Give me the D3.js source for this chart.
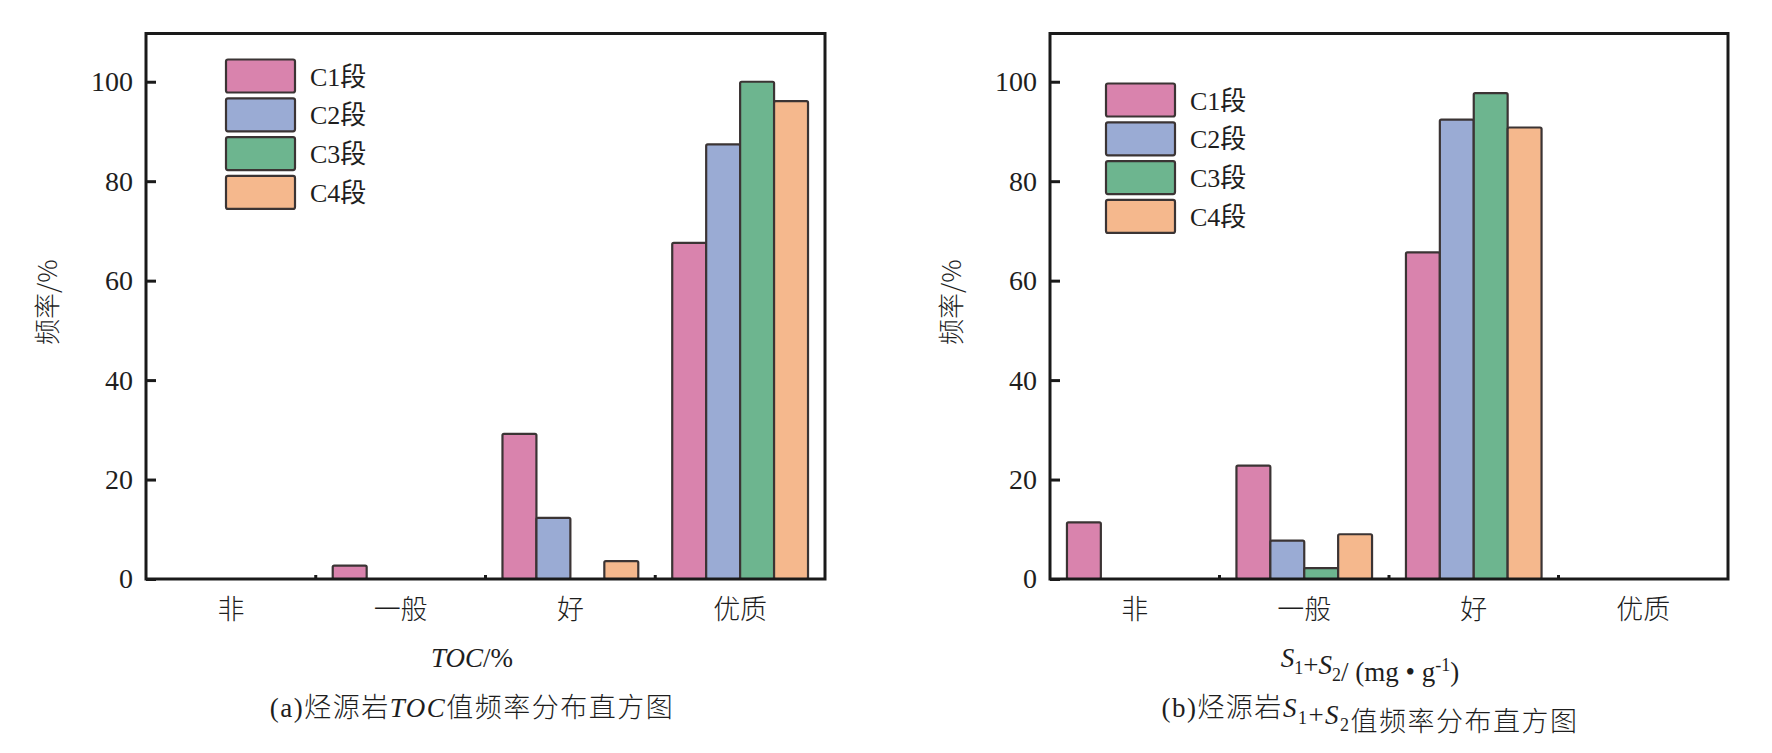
<!DOCTYPE html>
<html>
<head>
<meta charset="utf-8">
<script src="https://cdn.jsdelivr.net/npm/d3@7"></script>
<style>
  body { margin: 0; background: #fff; }
  text { fill: #1e1e1e; }
</style>
</head>
<body>
<script>
// categories and series
const categories = ["非", "一般", "好", "优质"];
const seriesNames = ["C1段", "C2段", "C3段", "C4段"];
const yTicks = [0, 20, 40, 60, 80, 100];

// (a) TOC frequency, one array per series, in category order
const tocC1 = [0, 2.7, 29.2, 67.6];
const tocC2 = [0, 0, 12.3, 87.4];
const tocC3 = [0, 0, 0, 100.0];
const tocC4 = [0, 0, 3.6, 96.1];

// (b) S1+S2 frequency
const s12C1 = [11.4, 22.8, 65.7, 0];
const s12C2 = [0, 7.7, 92.4, 0];
const s12C3 = [0, 2.2, 97.7, 0];
const s12C4 = [0, 9.0, 90.8, 0];

const colors = ["#d983ad", "#9aabd4", "#6db58f", "#f5b88d"];

const width = 1772, height = 753;
const serif = "'Liberation Serif', 'Noto Sans CJK SC', serif";
const cjk = "'Noto Sans CJK SC', 'Liberation Serif', sans-serif";

let svg = d3.select("body")
  .append("svg")
  .attr("width", width)
  .attr("height", height)
  .style("background", "#fff");

function drawPanel(p) {
  let x0 = d3.scaleBand()
    .domain(categories)
    .range([p.left, p.right]);

  let x1 = d3.scaleBand()
    .domain(seriesNames)
    .range([0, x0.bandwidth()])
    .paddingInner(0)
    .paddingOuter(0.5);

  let y = d3.scaleLinear()
    .domain([0, 109.7])
    .range([p.bottom, p.top]);

  let color = d3.scaleOrdinal().domain(seriesNames).range(colors);

  // bars
  let rows = [];
  p.series.forEach((vals, si) => {
    vals.forEach((v, ci) => {
      if (v > 0) rows.push({ cat: categories[ci], name: seriesNames[si], value: v });
    });
  });

  svg.append("g")
    .selectAll("rect")
    .data(rows)
    .enter()
    .append("rect")
    .attr("x", d => x0(d.cat) + x1(d.name))
    .attr("y", d => y(d.value))
    .attr("width", x1.bandwidth())
    .attr("height", d => y(0) - y(d.value))
    .attr("rx", 1.5)
    .attr("fill", d => color(d.name))
    .attr("stroke", "#3b3434")
    .attr("stroke-width", 2.2);

  // y axis, inward ticks
  let yAxis = svg.append("g")
    .attr("transform", `translate(${p.left}, 0)`)
    .call(d3.axisLeft(y).tickValues(yTicks).tickSizeInner(-10).tickSizeOuter(0).tickPadding(13));
  yAxis.select(".domain").remove();
  yAxis.selectAll(".tick line").attr("stroke", "#1a1a1a").attr("stroke-width", 3);
  yAxis.selectAll(".tick text")
    .style("font-family", serif)
    .style("font-size", "28px")
    .attr("fill", "#1e1e1e");

  // x axis labels
  let xAxis = svg.append("g")
    .attr("transform", `translate(0, ${p.bottom})`)
    .call(d3.axisBottom(x0).tickSize(0).tickPadding(31));
  xAxis.select(".domain").remove();
  xAxis.selectAll(".tick text")
    .attr("dy", "0.35em")
    .style("font-family", cjk)
    .style("font-size", "27px")
    .style("font-weight", 300)
    .attr("fill", "#1e1e1e");

  // small ticks between categories
  svg.append("g")
    .selectAll("line")
    .data(categories.slice(1))
    .enter()
    .append("line")
    .attr("x1", d => x0(d))
    .attr("x2", d => x0(d))
    .attr("y1", p.bottom)
    .attr("y2", p.bottom - 4)
    .attr("stroke", "#1a1a1a")
    .attr("stroke-width", 3);

  // frame
  svg.append("rect")
    .attr("x", p.left)
    .attr("y", p.top)
    .attr("width", p.right - p.left)
    .attr("height", p.bottom - p.top)
    .attr("fill", "none")
    .attr("stroke", "#1a1a1a")
    .attr("stroke-width", 3);

  // legend
  let legend = svg.selectAll(".legend" + p.id)
    .data(seriesNames)
    .enter().append("g")
    .attr("transform", (d, i) => `translate(${p.left + p.legendX}, ${p.top + p.legendY + i * 38.8})`);

  legend.append("rect")
    .attr("width", 69)
    .attr("height", 33)
    .attr("rx", 2)
    .attr("fill", d => color(d))
    .attr("stroke", "#3b3434")
    .attr("stroke-width", 2.2);

  legend.append("text")
    .attr("x", 84)
    .attr("y", 17)
    .attr("dy", "0.35em")
    .style("font-family", serif)
    .style("font-size", "26px")
    .text(d => d);

  // y axis title
  svg.append("text")
    .attr("transform", `translate(${p.left - 98}, ${(p.top + p.bottom) / 2 - 4}) rotate(-90)`)
    .attr("text-anchor", "middle")
    .attr("dy", "0.35em")
    .style("font-family", cjk)
    .style("font-size", "26px")
    .style("font-weight", 300)
    .text("频率/%");

  // x axis title and caption
  let xt = svg.append("text")
    .attr("x", p.titleX)
    .attr("y", 658)
    .attr("dy", "0.35em")
    .attr("text-anchor", "middle")
    .style("font-family", serif)
    .style("font-size", "27px");
  p.xTitle(xt);

  let cap = svg.append("text")
    .attr("x", p.titleX)
    .attr("y", 708)
    .attr("dy", "0.35em")
    .attr("text-anchor", "middle")
    .style("font-family", cjk)
    .style("font-size", "27px")
    .style("font-weight", 300)
    .style("letter-spacing", "1.5px");
  p.caption(cap);
}

function italic(t, s) {
  t.append("tspan").style("font-family", serif).style("font-style", "italic").text(s);
}
function sub(t, s) {
  t.append("tspan").style("font-family", serif).style("font-size", "18px").attr("dy", "7").text(s);
  t.append("tspan").attr("dy", "-7").text("");
}

drawPanel({
  id: "a",
  left: 146, right: 825, top: 33.5, bottom: 579,
  legendX: 80, legendY: 26,
  titleX: 472,
  series: [tocC1, tocC2, tocC3, tocC4],
  xTitle: t => {
    italic(t, "TOC");
    t.append("tspan").text("/%");
  },
  caption: t => {
    t.append("tspan").style("font-family", serif).text("(a)");
    t.append("tspan").text("烃源岩");
    italic(t, "TOC");
    t.append("tspan").text("值频率分布直方图");
  }
});

drawPanel({
  id: "b",
  left: 1050, right: 1728, top: 33.5, bottom: 579,
  legendX: 56, legendY: 50,
  titleX: 1370,
  series: [s12C1, s12C2, s12C3, s12C4],
  xTitle: t => {
    italic(t, "S");
    sub(t, "1");
    t.append("tspan").text("+");
    italic(t, "S");
    sub(t, "2");
    t.append("tspan").text("/ (mg • g");
    t.append("tspan").style("font-size", "18px").attr("dy", "-10").text("-1");
    t.append("tspan").attr("dy", "10").text(")");
  },
  caption: t => {
    t.append("tspan").style("font-family", serif).text("(b)");
    t.append("tspan").text("烃源岩");
    italic(t, "S");
    sub(t, "1");
    t.append("tspan").style("font-family", serif).text("+");
    italic(t, "S");
    sub(t, "2");
    t.append("tspan").text("值频率分布直方图");
  }
});
</script>
</body>
</html>
